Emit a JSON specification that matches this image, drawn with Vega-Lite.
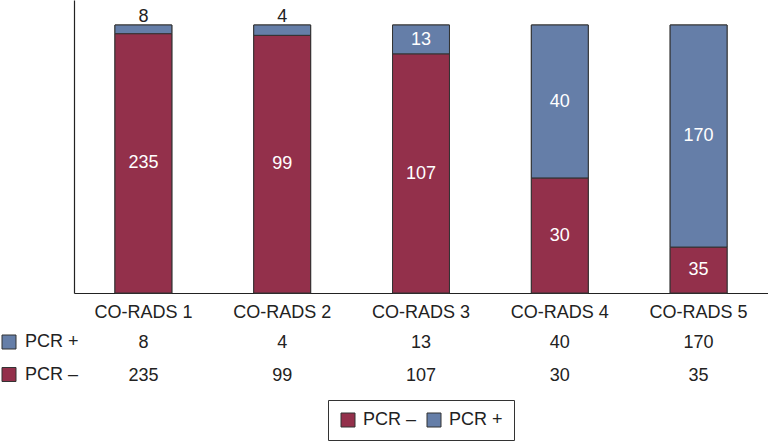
{
  "$schema": "https://vega.github.io/schema/vega-lite/v6.json",
  "width": 694,
  "height": 293,
  "autosize": {"type": "none"},
  "padding": {"left": 74, "top": 0, "right": 0, "bottom": 148},
  "config": {
    "view": {"stroke": null},
    "font": "Liberation Sans",
    "axisX": {"domainColor": "#222", "domainWidth": 1.2, "ticks": false, "labelFontSize": 18, "labelColor": "#222", "labelFont": "Liberation Sans", "labelPadding": 10, "labelAngle": 0, "grid": false},
    "axisY": {"domainColor": "#222", "domainWidth": 1.2, "ticks": false, "labels": false, "grid": false},
    "legend": {"labelFontSize": 18, "labelColor": "#222", "labelFont": "Liberation Sans", "symbolType": "square", "symbolSize": 196, "symbolStrokeColor": "#333", "symbolStrokeWidth": 1, "labelOffset": 7}
  },
  "data": {
    "values": [
      {"category": "CO-RADS 1", "series": "PCR +", "count": 8},
      {"category": "CO-RADS 1", "series": "PCR –", "count": 235},
      {"category": "CO-RADS 2", "series": "PCR +", "count": 4},
      {"category": "CO-RADS 2", "series": "PCR –", "count": 99},
      {"category": "CO-RADS 3", "series": "PCR +", "count": 13},
      {"category": "CO-RADS 3", "series": "PCR –", "count": 107},
      {"category": "CO-RADS 4", "series": "PCR +", "count": 40},
      {"category": "CO-RADS 4", "series": "PCR –", "count": 30},
      {"category": "CO-RADS 5", "series": "PCR +", "count": 170},
      {"category": "CO-RADS 5", "series": "PCR –", "count": 35}
    ]
  },
  "layer": [
    {
      "mark": {"type": "bar", "stroke": "#333", "strokeWidth": 1},
      "encoding": {
        "x": {"field": "category", "type": "nominal", "title": null, "scale": {"paddingInner": 0.59, "paddingOuter": 0.295}},
        "y": {"field": "count", "type": "quantitative", "stack": "normalize", "title": null, "scale": {"domain": [0, 1.0933], "nice": false}},
        "order": {"field": "series", "sort": "descending"},
        "color": {
          "field": "series", "type": "nominal",
          "scale": {"domain": ["PCR +", "PCR –"], "range": ["#657EA8", "#93304B"]},
          "legend": {"orient": "none", "legendX": -74, "legendY": 333, "direction": "vertical", "title": null, "padding": 0, "rowPadding": 14.5}
        }
      }
    },
    {
      "mark": {"type": "bar", "stroke": "#333", "strokeWidth": 1},
      "encoding": {
        "x": {"field": "category", "type": "nominal", "title": null},
        "y": {"field": "count", "type": "quantitative", "stack": "normalize", "title": null},
        "order": {"field": "series", "sort": "descending"},
        "color": {
          "field": "series", "type": "nominal",
          "scale": {"domain": ["PCR –", "PCR +"], "range": ["#93304B", "#657EA8"]},
          "legend": {"orient": "none", "legendX": 254, "legendY": 400, "direction": "horizontal", "title": null, "padding": 11, "columnPadding": 8, "labelOffset": 6, "strokeColor": "#333"}
        }
      }
    },
    {
      "transform": [
        {"stack": "count", "groupby": ["category"], "sort": [{"field": "series", "order": "descending"}], "offset": "normalize", "as": ["y0", "y1"]},
        {"calculate": "(datum.y0 + datum.y1) / 2", "as": "ymid"},
        {"filter": "datum.y1 - datum.y0 >= 0.06"}
      ],
      "mark": {"type": "text", "fontSize": 18, "color": "white", "baseline": "middle", "align": "center"},
      "encoding": {
        "x": {"field": "category", "type": "nominal", "title": null},
        "y": {"field": "ymid", "type": "quantitative", "title": null},
        "text": {"field": "count", "type": "quantitative"}
      }
    },
    {
      "transform": [
        {"stack": "count", "groupby": ["category"], "sort": [{"field": "series", "order": "descending"}], "offset": "normalize", "as": ["y0", "y1"]},
        {"filter": "datum.y1 - datum.y0 < 0.06"}
      ],
      "mark": {"type": "text", "fontSize": 18, "color": "#222", "baseline": "alphabetic", "align": "center", "dy": -3},
      "encoding": {
        "x": {"field": "category", "type": "nominal", "title": null},
        "y": {"field": "y1", "type": "quantitative", "title": null},
        "text": {"field": "count", "type": "quantitative"}
      }
    },
    {
      "transform": [{"filter": "datum.series == 'PCR +'"}],
      "mark": {"type": "text", "fontSize": 18, "color": "#222", "baseline": "middle", "align": "center", "dy": 49.5},
      "encoding": {
        "x": {"field": "category", "type": "nominal", "title": null},
        "y": {"datum": 0, "type": "quantitative", "title": null},
        "text": {"field": "count", "type": "quantitative"}
      }
    },
    {
      "transform": [{"filter": "datum.series == 'PCR –'"}],
      "mark": {"type": "text", "fontSize": 18, "color": "#222", "baseline": "middle", "align": "center", "dy": 82.5},
      "encoding": {
        "x": {"field": "category", "type": "nominal", "title": null},
        "y": {"datum": 0, "type": "quantitative", "title": null},
        "text": {"field": "count", "type": "quantitative"}
      }
    }
  ],
  "resolve": {"scale": {"color": "independent"}}
}
